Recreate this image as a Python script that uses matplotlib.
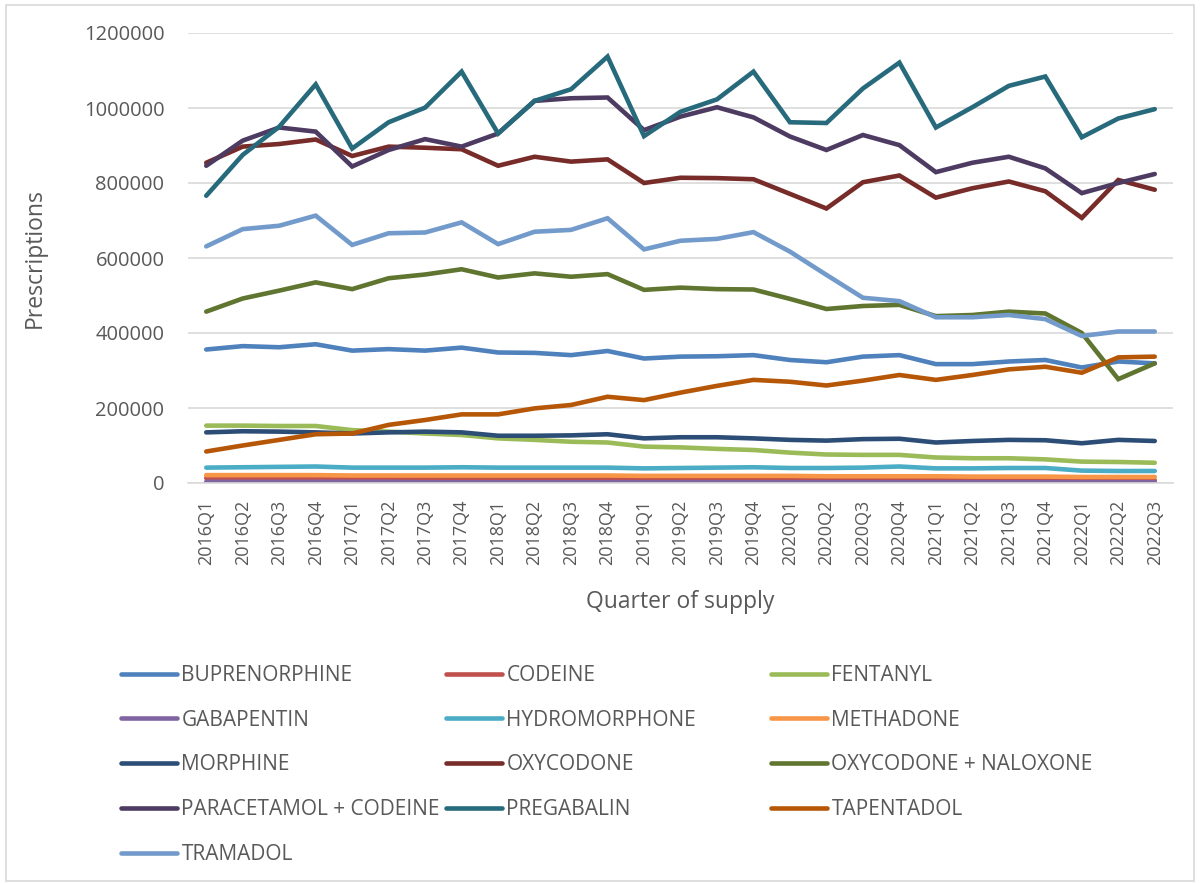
import matplotlib
matplotlib.use("Agg")
import matplotlib.pyplot as plt
from matplotlib.patches import Rectangle
from matplotlib.ticker import StrMethodFormatter

plt.rcParams['font.family'] = ['Open Sans', 'DejaVu Sans']

quarters = [f"{y}Q{q}" for y in range(2016, 2023) for q in range(1, 5)][:27]

buprenorphine = [356, 365, 362, 370, 353, 357, 353, 361, 348, 347, 341, 352, 332, 337,
                 338, 341, 328, 322, 337, 341, 317, 317, 324, 328, 308, 324, 319]
codeine = [13, 13, 13, 13, 12, 12, 12, 12, 11, 11, 11, 11, 10, 10,
           10, 10, 9, 9, 9, 9, 8, 8, 8, 8, 7, 7, 7]
fentanyl = [153, 153, 152, 152, 141, 137, 132, 128, 119, 115, 110, 108, 97, 95,
            91, 88, 81, 76, 75, 75, 68, 66, 66, 63, 57, 56, 54]
gabapentin = [3, 3, 3, 3, 3, 3, 2, 2, 2, 2, 2, 2, 2, 2,
              2, 2, 2, 2, 2, 2, 2, 2, 2, 2, 2, 2, 2]
hydromorphone = [41, 42, 43, 44, 41, 41, 41, 42, 41, 41, 41, 41, 39, 40,
                 41, 42, 40, 40, 41, 44, 39, 39, 40, 40, 33, 32, 32]
methadone = [21, 21, 21, 21, 20, 20, 20, 20, 20, 20, 20, 20, 19, 19,
             19, 19, 19, 18, 18, 18, 18, 17, 17, 17, 16, 16, 16]
morphine = [135, 138, 137, 135, 132, 135, 137, 135, 126, 126, 127, 130, 119, 122,
            122, 119, 115, 113, 117, 118, 108, 112, 115, 114, 106, 115, 112]
oxycodone = [854, 897, 904, 916, 872, 897, 894, 890, 846, 870, 857, 863, 800, 814,
             813, 810, 771, 732, 802, 820, 761, 786, 804, 778, 707, 808, 782]
oxy_naloxone = [457, 492, 513, 535, 517, 546, 556, 570, 548, 559, 550, 557, 515, 521,
                517, 516, 491, 464, 472, 475, 445, 448, 457, 452, 400, 277, 319]
para_codeine = [846, 913, 948, 937, 844, 888, 917, 897, 932, 1019, 1026, 1028, 941, 977,
                1002, 975, 924, 888, 928, 901, 829, 854, 870, 839, 773, 800, 824]
pregabalin = [766, 875, 950, 1063, 892, 962, 1001, 1097, 932, 1019, 1050, 1137, 925, 990,
              1023, 1097, 962, 960, 1052, 1121, 948, 1002, 1059, 1084, 922, 972, 997]
tapentadol = [84, 100, 115, 130, 132, 155, 168, 183, 183, 199, 208, 230, 221, 241,
              259, 275, 270, 260, 273, 288, 275, 288, 303, 310, 294, 335, 337]
tramadol = [631, 677, 686, 713, 635, 666, 668, 695, 637, 670, 675, 706, 623, 646,
            651, 669, 617, 555, 494, 485, 442, 442, 448, 437, 392, 404, 404]

names = ["BUPRENORPHINE", "CODEINE", "FENTANYL", "GABAPENTIN", "HYDROMORPHONE",
         "METHADONE", "MORPHINE", "OXYCODONE", "OXYCODONE + NALOXONE",
         "PARACETAMOL + CODEINE", "PREGABALIN", "TAPENTADOL", "TRAMADOL"]
series = [buprenorphine, codeine, fentanyl, gabapentin, hydromorphone, methadone,
          morphine, oxycodone, oxy_naloxone, para_codeine, pregabalin, tapentadol, tramadol]
colors = ["#4F81BD", "#C0504D", "#9BBB59", "#8064A2", "#4BACC6", "#F79646",
          "#2C4D75", "#772C2A", "#5F7530", "#4D3B62", "#276A7C", "#B65708", "#729ACA"]

txt = "#595959"
fig = plt.figure(figsize=(12, 8.83), dpi=100)
ax = fig.add_axes([188 / 1200, 1 - 483 / 883, (1173 - 188) / 1200, 450 / 883])

x = list(range(len(quarters)))
lines = []
for name, vals, c in zip(names, series, colors):
    ln, = ax.plot(x, [v * 1000 for v in vals], color=c, lw=3.3, label=name,
                  solid_joinstyle="miter", solid_capstyle="round")
    lines.append(ln)

ax.set_xlim(-0.5, 26.5)
ax.set_ylim(0, 1200000)
ax.set_yticks(range(0, 1200001, 200000))
ax.yaxis.set_major_formatter(StrMethodFormatter("{x:.0f}"))
ax.set_xticks(x)
ax.set_xticklabels(quarters, rotation=90)
ax.grid(axis="y", color="#D9D9D9", lw=1.2)
ax.set_axisbelow(True)
for s in ["top", "right", "left"]:
    ax.spines[s].set_visible(False)
ax.spines["bottom"].set_color("#D9D9D9")
ax.spines["bottom"].set_linewidth(1.2)
ax.tick_params(axis="both", length=0, labelcolor=txt)
ax.tick_params(axis="y", pad=17, labelsize=14.5)
ax.tick_params(axis="x", pad=12, labelsize=13)
ax.set_xlabel("Quarter of supply", fontsize=16.5, color=txt, labelpad=18)
ax.set_ylabel("Prescriptions", fontsize=16.5, color=txt, labelpad=27)

# Excel-style legend: three columns filled row by row
col_x = [121 / 1200, 446 / 1200, 771 / 1200]
for c in range(3):
    idx = list(range(c, len(names), 3))
    fig.legend([lines[i] for i in idx], [names[i] for i in idx],
               loc="upper left", bbox_to_anchor=(col_x[c], 1 - 665 / 883),
               frameon=False, fontsize=15, labelcolor=txt, handlelength=2.7,
               handletextpad=0.2, labelspacing=1.14, borderaxespad=0, borderpad=0)

fig.add_artist(Rectangle((6 / 1200, 2 / 883), 1188 / 1200, 876 / 883,
                         transform=fig.transFigure, fill=False,
                         edgecolor="#D9D9D9", lw=1.2))

fig.savefig("out.png", dpi=100)
